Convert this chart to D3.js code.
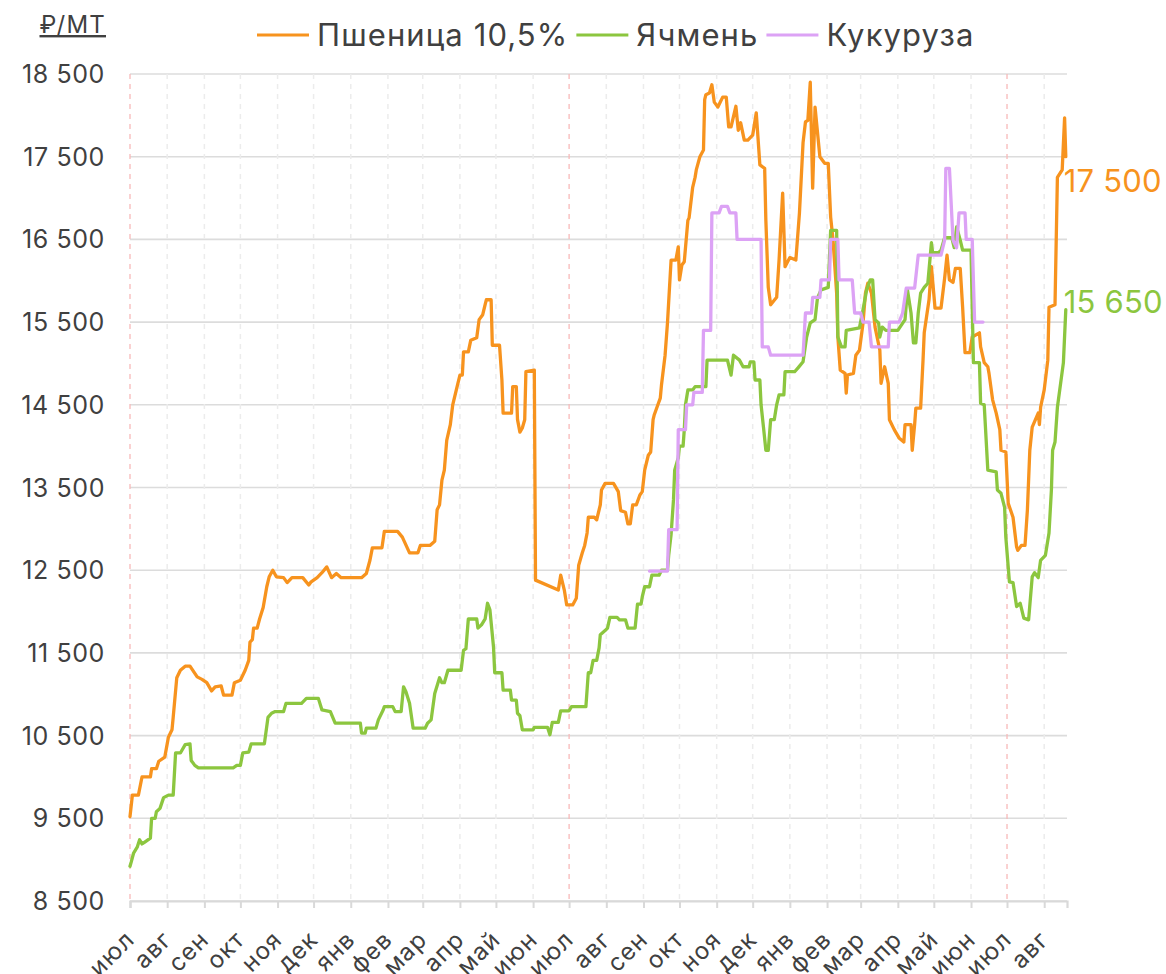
<!DOCTYPE html>
<html><head><meta charset="utf-8">
<script src="https://cdn.jsdelivr.net/npm/d3@7"></script>
<style>
html,body{margin:0;padding:0;background:#fff;}
svg{display:block;font-family:Inter,"Noto Sans",sans-serif;}
</style></head><body>
<svg id="chart" width="1166" height="974"></svg>
<script>
// ---------- DATA ----------
const startDate = "2023-07-01";          // first day on the axis
const axisDays = 781;                     // length of the axis, days
const monthNames = ["янв","фев","мар","апр","май","июн","июл","авг","сен","окт","ноя","дек"];
const yTicks = [8500, 9500, 10500, 11500, 12500, 13500, 14500, 15500, 16500, 17500, 18500];
const unitLabel = "₽/МТ";
const seriesNames = ["Пшеница 10,5%", "Ячмень", "Кукуруза"];
const seriesColors = ["#F7931E", "#8CC63F", "#DCA2F5"];

// days since startDate / price, ₽ per tonne
const wheatDay = [
  0,2,7,10,17,18,22,24,29,32, 35,36,39,42,46,50,56,60,64,68, 71,76,78,85,87,92,96,99,100,102,
  103,106,108,111,114,116,119,122,128,131, 135,144,149,151,156,160,164,168,172,176,
  193,197,200,202,210,212,223,227,233,240, 242,250,254,256,258,260,262,264,267,269,
  273,275,277,278,282,284,289,291,294,296, 297,301,302,308,310,311,318,319,322,323,
  325,327,329,330,337,338,357,359,362,364, 369,372,374,377,379,381,382,387,389,392,
  393,396,403,407,409,413,415,417,419,422, 425,427,429,432,434,436,437,440,442,443,
  446,448,451,455,457,458,460,462,465,466, 469,471,472,475,478,479,480,483,485,487,
  490,494,497,499,501,505,507,509,512,515, 519,522,523,525,529,530,532,534,539,541,
  544,546,550,555,558,561,563,565,567,569, 571,575,579,582,584,586,589,590,592,596,
  597,598,603,605,608,611,613,615,618,621, 625,626,629,632,633,637,641,645,646,651,
  652,654,655,659,661,662,666,668,671,676, 679,681,683,686,688,692,694,696,700,702,
  708,709,712,715,716,719,722,725,726,730, 732,736,739,740,743,746,748,750,752,757,
  758,759,762,765,766,771,773,777,779,780
];
const wheatValue = [
  9520,9780,9780,10000,10000,10100,10100,10190,10240,10480, 10570,10720,11200,11290,11340,11340,11210,11180,11140,11040,
  11090,11100,10990,10990,11140,11170,11290,11410,11630,11660, 11800,11800,11910,12050,12300,12420,12500,12420,12410,12350,
  12410,12410,12320,12360,12410,12470,12540,12410,12460,12410, 12410,12460,12620,12770,12770,12970,12970,12900,12710,12710,
  12800,12800,12850,13230,13290,13590,13710,14070,14260,14500, 14740,14860,14860,15140,15140,15280,15310,15530,15590,15710,
  15770,15770,15220,15220,14800,14400,14400,14720,14720,14320, 14170,14220,14320,14900,14920,12380,12260,12440,12260,12080,
  12080,12160,12560,12710,12800,12950,13140,13140,13110,13290, 13470,13550,13550,13450,13220,13200,13060,13060,13290,13290,
  13410,13450,13710,13890,13930,14320,14380,14500,14580,14740, 15100,15490,16250,16250,16410,16010,16190,16230,16730,16760,
  17130,17250,17340,17500,17580,18190,18250,18270,18370,18160, 18100,18220,18220,17860,17860,18110,17820,17910,17700,17700,
  17760,18030,17820,17400,17360,16730,15920,15710,15800,16250, 17060,16170,16280,16250,16820,17670,17920,17940,18400,17120,
  18100,17500,17420,17420,16770,16490,15850,15320,14920,14880, 14640,14860,14880,15100,15160,15490,15850,15970,15850,15440,
  15160,14760,14960,14760,14320,14200,14100,14050,14260,14260, 13950,14260,14460,14460,15040,15370,15770,16170,15670,15670,
  16030,16310,16010,15980,16150,16150,15680,15130,15130,15320, 15370,15200,15010,14960,14880,14560,14400,14200,13950,13930,
  13310,13140,12780,12740,12800,12800,13230,13950,14230,14400, 14260,14470,14680,15040,15680,15710,17250,17340,17970,17500
];

const barleyDay = [
  0,1,3,6,8,10,12,17,18,21, 22,25,28,32,36,38,42,46,50,51, 54,57,86,89,92,94,99,101,112,115,
  118,121,128,130,143,147,157,160,167,171, 192,193,196,197,205,207,211,212,219,221,
  226,228,230,233,236,246,248,251,254,258, 260,262,265,276,278,280,282,289,290,293,
  296,298,300,303,304,310,311,317,318,322, 323,325,327,336,337,348,350,352,357,359,
  366,368,380,382,384,386,389,391,392,396, 398,400,406,408,413,415,421,423,426,427,
  429,433,435,441,443,448,449,451,453,454, 457,458,461,462,463,465,469,471,480,481,
  498,501,503,508,511,516,517,520,521,525, 526,528,530,532,534,537,539,541,545,546,
  554,557,561,564,567,571,573,576,582,584, 589,590,593,596,597,608,611,614,617,619,
  621,624,625,627,630,640,646,648,651,653, 655,657,659,662,665,668,669,674,676,679,
  685,687,689,692,694,701,703,708,709,712, 715,722,723,726,729,730,733,736,739,742,
  745,749,752,754,757,759,763,766,768,769, 771,773,778,780
];
const barleyValue = [
  8920,8970,9080,9150,9240,9190,9210,9260,9500,9500, 9580,9620,9750,9780,9780,10290,10290,10390,10400,10200,
  10140,10110,10110,10140,10140,10290,10300,10400,10400,10720, 10770,10790,10790,10890,10890,10950,10950,10810,10790,10650,
  10650,10530,10530,10590,10590,10690,10810,10850,10850,10790, 10790,11090,11030,10890,10590,10590,10650,10690,11010,11200,
  11140,11140,11290,11290,11530,11550,11910,11910,11800,11840, 11910,12100,12020,11570,11260,11260,11050,11050,10930,10930,
  10770,10740,10570,10570,10600,10600,10510,10660,10660,10800, 10800,10850,10850,11260,11260,11410,11410,11560,11720,11770,
  11800,11930,11930,11900,11900,11800,11800,12090,12090,12180, 12300,12300,12440,12440,12500,12500,12680,12930,13350,13710,
  13860,14000,14000,14200,14500,14680,14680,14720,14720,15040, 15040,14860,15100,15040,14960,14960,15020,15020,14800,14800,
  14500,14230,13950,13950,14320,14320,14500,14620,14620,14900, 14900,14950,15020,15320,15490,15530,15790,15890,15920,16610,
  16610,15320,15200,15200,15400,15430,15650,15890,16010,16010, 15530,15490,15320,15440,15400,15400,15530,15890,15610,15250,
  15250,15610,15850,15920,15970,16460,16340,16340,16370,16520, 16520,16400,16650,16490,16370,16370,15010,15010,14520,14500,
  13710,13690,13470,13430,13260,12900,12360,12350,12060,12100, 11920,11900,12420,12470,12410,12620,12680,12950,13470,13950,
  14050,14470,15010,15650
];

const cornDay = [
  433,448,449,456,457,463,464,469,470,477, 478,484,485,491,493,498,500,505,506,526,
  527,532,534,561,563,568,569,575,576,583, 584,590,591,602,604,609,611,616,618,632,
  633,641,644,647,654,657,676,679,680,683, 686,689,691,696,697,702,704,711
];
const cornValue = [
  12490,12490,12990,12990,14200,14200,14500,14500,14650,14650, 15400,15400,16820,16820,16900,16900,16820,16820,16500,16500,
  15200,15200,15100,15100,15610,15610,15800,15800,16010,16010, 16500,16500,16010,16010,15610,15610,15500,15500,15200,15200,
  15500,15500,15610,15910,15910,16310,16310,16490,17360,17360, 16490,16400,16820,16820,16500,16500,15500,15500
];

// ---------- CHART ----------
const svg = d3.select("#chart");
const W = 1166, H = 974;
const margin = {left:130, right:99, top:74, bottom:73};
const t0 = d3.isoParse(startDate + "T00:00:00");
const t1 = d3.timeDay.offset(t0, axisDays);

const x = d3.scaleTime().domain([t0, t1]).range([margin.left, W - margin.right]);
const y = d3.scaleLinear().domain([d3.min(yTicks), d3.max(yTicks)]).range([H - margin.bottom, margin.top]);

const ru = d3.formatLocale({decimal:",", thousands:"\u00a0", grouping:[3], currency:["","₽"]});
const fmt = ru.format(",d");
const textColor = "#404040";

const months = d3.timeMonth.range(t0, t1);

// horizontal grid
svg.append("g").selectAll("line").data(yTicks).join("line")
  .attr("x1", x.range()[0]).attr("x2", x.range()[1])
  .attr("y1", d => y(d)).attr("y2", d => y(d))
  .attr("stroke", "#dcdcdc").attr("stroke-width", 1.6);

// vertical dashed month grid
svg.append("g").selectAll("line").data(months).join("line")
  .attr("x1", d => x(d)).attr("x2", d => x(d))
  .attr("y1", y.range()[1]).attr("y2", y.range()[0])
  .attr("stroke", d => d.getMonth() === 6 ? "#f7b9b9" : "#ececec")
  .attr("stroke-width", d => d.getMonth() === 6 ? 1.3 : 1.5)
  .attr("stroke-dasharray", "5,5");

// x axis
const xAxis = d3.axisBottom(x).tickValues(months).tickSize(7).tickFormat("");
const gx = svg.append("g").attr("transform", `translate(0,${y.range()[0]})`).call(xAxis);
gx.select(".domain").attr("stroke", "#d9d9d9").attr("stroke-width", 2.2);
gx.selectAll(".tick line").attr("stroke", "#d9d9d9").attr("stroke-width", 2);

svg.append("g").selectAll("text").data(months).join("text")
  .attr("transform", d => `translate(${x(d) + 6},${y.range()[0] + 40}) rotate(-45)`)
  .attr("text-anchor", "end")
  .attr("font-size", 24)
  .attr("letter-spacing", "1.2")
  .attr("fill", textColor)
  .text(d => monthNames[d.getMonth()]);

// y axis labels
const yAxis = d3.axisLeft(y).tickValues(yTicks).tickSize(0).tickPadding(0).tickFormat(fmt);
const gy = svg.append("g").attr("transform", `translate(${margin.left - 25},0)`).call(yAxis);
gy.select(".domain").remove();
gy.selectAll("text").attr("font-size", 25).attr("fill", textColor)
  .attr("font-family", "Inter,'Noto Sans',sans-serif").attr("dy", "0.34em").attr("letter-spacing", "0.6");

// unit label
svg.append("text").attr("x", margin.left - 24).attr("y", 33)
  .attr("text-anchor", "end").attr("font-size", 24).attr("fill", textColor)
  .attr("letter-spacing", "1.2")
  .style("text-decoration", "underline")
  .text(unitLabel);

// series
const series = [
  {name: seriesNames[0], color: seriesColors[0], data: d3.zip(wheatDay, wheatValue)},
  {name: seriesNames[1], color: seriesColors[1], data: d3.zip(barleyDay, barleyValue)},
  {name: seriesNames[2], color: seriesColors[2], data: d3.zip(cornDay, cornValue)}
];
const line = d3.line()
  .x(d => x(d3.timeDay.offset(t0, d[0])))
  .y(d => y(d[1]));

svg.append("g").selectAll("path").data(series).join("path")
  .attr("d", s => line(s.data))
  .attr("fill", "none")
  .attr("stroke", s => s.color)
  .attr("stroke-width", 3.3)
  .attr("stroke-linejoin", "round")
  .attr("stroke-linecap", "round");

// end labels (last values)
const endOffsets = [35, 3];
[0, 1].forEach(i => {
  const s = series[i];
  const last = s.data[s.data.length - 1];
  svg.append("text")
    .attr("x", x(d3.timeDay.offset(t0, last[0])) - 2)
    .attr("y", y(last[1]) + endOffsets[i])
    .attr("font-size", 31).attr("fill", s.color).attr("letter-spacing", "0.2")
    .text(fmt(last[1]));
});

// legend
const legend = svg.append("g").attr("transform", "translate(257,35)");
let lx = 0;
series.forEach(s => {
  legend.append("line").attr("x1", lx).attr("x2", lx + 52).attr("y1", 0).attr("y2", 0)
    .attr("stroke", s.color).attr("stroke-width", 3);
  lx += 60;
  const t = legend.append("text").attr("x", lx).attr("y", 11)
    .attr("font-size", 31).attr("letter-spacing", "1.1").attr("fill", textColor).text(s.name);
  lx += t.node().getComputedTextLength() + 8;
});
</script>
</body></html>
